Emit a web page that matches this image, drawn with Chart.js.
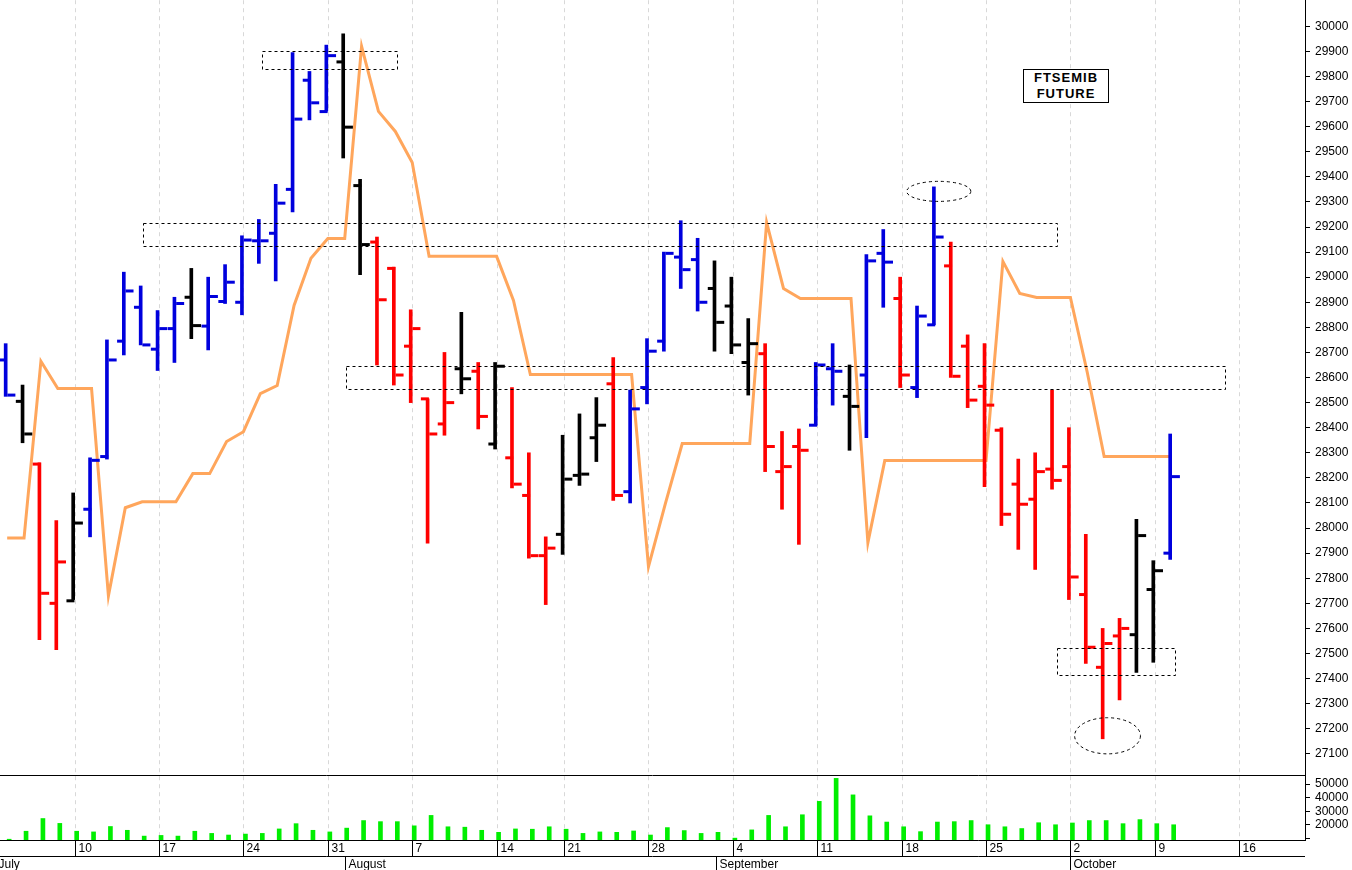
<!DOCTYPE html>
<html><head><meta charset="utf-8">
<script src="https://cdn.jsdelivr.net/npm/chart.js@4.4.1/dist/chart.umd.min.js"></script>
<style>
html,body{margin:0;padding:0;background:#fff;}
#wrap{position:relative;width:1352px;height:870px;overflow:hidden;}
#cw{position:absolute;left:0;top:-12px;width:1352px;height:882px;}
#title{position:absolute;left:1023px;top:69px;width:84px;height:32px;border:1px solid #000;background:#fff;
font:bold 13px "Liberation Sans",Arial,sans-serif;text-align:center;line-height:16px;letter-spacing:1px;color:#000;}
</style></head>
<body><div id="wrap"><div id="cw"><canvas id="c"></canvas></div><div id="title">FTSEMIB<br>FUTURE</div></div>
<script>
const dates=["07-04","07-05","07-06","07-07","07-10","07-11","07-12","07-13","07-14","07-17","07-18","07-19","07-20","07-21","07-24","07-25","07-26","07-27","07-28","07-31","08-01","08-02","08-03","08-04","08-07","08-08","08-09","08-10","08-11","08-14","08-16","08-17","08-18","08-21","08-22","08-23","08-24","08-25","08-28","08-29","08-30","08-31","09-01","09-04","09-05","09-06","09-07","09-08","09-11","09-12","09-13","09-14","09-15","09-18","09-19","09-20","09-21","09-22","09-25","09-26","09-27","09-28","09-29","10-02","10-03","10-04","10-05","10-06","10-09","10-10"];
const highs=[28735,28570,28260,28030,28140,28280,28750,29020,28965,28867,28920,29035,29000,29050,29165,29230,29370,29895,29820,29925,29970,29390,29160,29040,28870,28515,28700,28860,28660,28660,28560,28300,27965,28370,28455,28520,28680,28550,28755,29100,29225,29155,29065,29000,28835,28735,28385,28395,28660,28735,28650,29090,29190,29000,28885,29360,29140,28770,28735,28400,28275,28300,28550,28400,27975,27600,27640,28035,27870,28375];
const lows=[28525,28340,27555,27515,27715,27965,28275,28690,28730,28628,28660,28755,28710,28895,28850,29055,28985,29260,29627,29662,29475,29010,28650,28570,28500,27940,28370,28535,28395,28315,28160,27880,27695,27895,28170,28265,28110,28100,28495,28705,28955,28865,28705,28695,28530,28225,28075,27935,28410,28490,28310,28360,28880,28560,28520,28810,28600,28480,28165,28010,27915,27835,28155,27715,27460,27160,27315,27425,27465,27875];
const opens=[28670,28505,28255,27700,27710,28075,28285,28745,28880,28713,28795,28920,28805,28903,28900,29145,29175,29350,29785,29660,29858,29365,29140,29035,28725,28515,28415,28635,28625,28335,28280,28130,27890,27975,28210,28360,28575,28145,28560,28745,29080,29070,28955,28885,28660,28695,28225,28325,28410,28635,28525,28610,29095,28915,28560,28810,29045,28725,28565,28390,28175,28115,28235,28245,27735,27445,27570,27575,27755,27900];
const closes=[28530,28375,27740,27865,28020,28270,28670,28945,28730,28795,28895,28807,28923,28980,29148,29145,29295,29630,29695,29883,29598,29130,28910,28610,28795,28375,28500,28595,28445,28645,28175,27890,27920,28195,28215,28410,28130,28475,28705,29095,29030,28900,28820,28730,28735,28325,28245,28310,28650,28625,28485,29065,29060,28610,28845,29160,28605,28510,28490,28055,28095,28225,28190,27805,27525,27540,27600,27970,27830,28205];
const barColors="bkrrkbbbbbbkbbbbbbbbkkrrrrrkrkrrrkkkrbbbbbkkkrrrbbkbbrbbrrrrrrrrrrrkkb";
const avgLine=[27960,27960,28665,28556,28556,28556,27730,28081,28105,28105,28105,28217,28217,28345,28384,28536,28568,28887,29075,29154,29154,29920,29661,29581,29457,29083,29083,29083,29083,29083,28907,28612,28612,28612,28612,28612,28612,28612,27846,28097,28337,28337,28337,28337,28337,29218,28955,28915,28915,28915,28915,27942,28269,28269,28269,28269,28269,28269,28269,29063,28935,28919,28919,28919,28620,28285,28285,28285,28285,28285];
const volumes=[9300,15200,24600,21000,15200,14700,18700,15900,11600,12100,11600,15200,13600,12400,13100,13600,16900,20800,15900,14700,17500,23100,22300,22300,19200,26900,18500,18200,15900,14400,16900,16700,18500,16700,13600,14700,14400,15400,12400,17900,15700,13600,14400,10100,16200,26900,18500,27400,37300,54300,42100,26600,22000,18500,14900,22000,22300,23100,20000,18500,17200,21500,20000,21300,23100,23100,20800,23800,20800,20000];
const dayTicks=[[4,"10"],[9,"17"],[14,"24"],[19,"31"],[24,"7"],[29,"14"],[33,"21"],[38,"28"],[43,"4"],[48,"11"],[53,"18"],[58,"25"],[63,"2"],[68,"9"],[73,"16"]];
const monthTicks=[[-0.75,"July"],[20,"August"],[42,"September"],[63,"October"]];
const boxes=[[15.1,23.1,29900,29828],[8.03,62.2,29214,29122],[20.1,72.2,28644,28552],[62.2,69.2,27523,27415]];
const ellipses=[[55.2,29342,1.9,40],[65.2,27172,1.95,72]];
const priceTicks=[27100,27200,27300,27400,27500,27600,27700,27800,27900,28000,28100,28200,28300,28400,28500,28600,28700,28800,28900,29000,29100,29200,29300,29400,29500,29600,29700,29800,29900,30000];
const volTicks=[10000,20000,30000,40000,50000];

const cmap={b:"#0000dd",r:"#ff0000",k:"#000000"};
const cols=barColors.split("").map(c=>cmap[c]);
const FONT='"Liberation Sans",Arial,sans-serif';

const overlay={id:"overlay",
 beforeDatasetsDraw(ch){
  const c=ch.ctx,x=ch.scales.x,a=ch.chartArea;
  c.save();c.strokeStyle="#d8d8d8";c.lineWidth=1;c.setLineDash([4,4]);
  dayTicks.forEach(t=>{const px=Math.round(x.getPixelForValue(t[0]))+0.5;c.beginPath();c.moveTo(px,a.top);c.lineTo(px,a.bottom);c.stroke();});
  c.restore();
 },
 afterDraw(ch){
  const c=ch.ctx,x=ch.scales.x,y=ch.scales.y,yv=ch.scales.yv,a=ch.chartArea;
  c.save();
  c.strokeStyle="#000";c.lineWidth=1;c.setLineDash([3,3]);
  boxes.forEach(b=>{const x1=x.getPixelForValue(b[0]),x2=x.getPixelForValue(b[1]),y1=y.getPixelForValue(b[2]),y2=y.getPixelForValue(b[3]);
   c.strokeRect(Math.round(x1)+0.5,Math.round(y1)+0.5,Math.round(x2-x1),Math.round(y2-y1));});
  ellipses.forEach(e=>{const cx=x.getPixelForValue(e[0]),cy=y.getPixelForValue(e[1]);
   const rx=x.getPixelForValue(e[0]+e[2])-cx,ry=Math.abs(y.getPixelForValue(e[1]+e[3])-cy);
   c.beginPath();c.ellipse(cx,cy,rx,ry,0,0,Math.PI*2);c.stroke();});
  c.setLineDash([]);
  const sep=Math.round(yv.top)-0.5;
  c.beginPath();c.moveTo(0,sep);c.lineTo(a.right,sep);c.stroke();
  const bt=Math.round(a.bottom)+0.5;
  c.beginPath();c.moveTo(0,bt);c.lineTo(a.right,bt);c.stroke();
  c.beginPath();c.moveTo(0,bt+16);c.lineTo(a.right,bt+16);c.stroke();
  c.fillStyle="#000";c.font="12px "+FONT;c.textBaseline="middle";c.textAlign="left";
  dayTicks.forEach(t=>{const px=Math.round(x.getPixelForValue(t[0]))+0.5;
   c.beginPath();c.moveTo(px,bt);c.lineTo(px,bt+16);c.stroke();
   c.fillText(t[1],px+3,bt+8);});
  monthTicks.forEach(t=>{const px=Math.round(x.getPixelForValue(t[0]))+0.5;
   c.beginPath();c.moveTo(px,bt+16);c.lineTo(px,bt+40);c.stroke();
   c.fillText(t[1],px+3,bt+24);});
  c.restore();
 }};

const hl=highs.map((h,i)=>({x:i,y:[lows[i],h]}));
const op=opens.map((v,i)=>({x:i-0.25,y:v}));
const cl=closes.map((v,i)=>({x:i+0.25,y:v}));
const ma=avgLine.map((v,i)=>({x:i,y:v}));
const vo=volumes.map((v,i)=>({x:i,y:v}));

new Chart(document.getElementById("c"),{
 data:{datasets:[
  {type:"line",data:ma,borderColor:"#ffa65c",borderWidth:3,pointRadius:0,tension:0,yAxisID:"y",order:3,clip:false},
  {type:"bar",data:hl,backgroundColor:cols,barThickness:3,yAxisID:"y",order:2,clip:false},
  {type:"scatter",data:op,pointStyle:"line",radius:4,borderWidth:3,borderColor:cols,backgroundColor:cols,yAxisID:"y",order:1,clip:false},
  {type:"scatter",data:cl,pointStyle:"line",radius:4,borderWidth:3,borderColor:cols,backgroundColor:cols,yAxisID:"y",order:1,clip:false},
  {type:"bar",data:vo,backgroundColor:"#00ee00",barThickness:4,yAxisID:"yv",order:4,clip:{left:false,top:0,right:0,bottom:0}}
 ]},
 options:{responsive:true,maintainAspectRatio:false,animation:false,
  layout:{padding:{left:0,top:0,right:0,bottom:30}},
  plugins:{legend:{display:false},tooltip:{enabled:false}},
  scales:{
   x:{type:"linear",min:-0.01,max:76.9,offset:false,display:false},
   y:{type:"linear",position:"right",stack:"s",stackWeight:775,min:27012,max:30104,
      afterBuildTicks:s=>{s.ticks=priceTicks.map(v=>({value:v}));},
      afterFit:s=>{s.width=47;},
      grid:{drawOnChartArea:false,drawTicks:true,tickLength:5,color:"#000"},border:{display:true,color:"#000"},
      ticks:{color:"#000",autoSkip:false,font:{size:12,family:FONT},padding:5,callback:v=>String(v)}},
   yv:{type:"linear",position:"right",stack:"s",stackWeight:64,min:8720,max:56100,
      afterBuildTicks:s=>{s.ticks=volTicks.map(v=>({value:v}));},
      afterFit:s=>{s.width=47;},
      grid:{drawOnChartArea:false,drawTicks:true,tickLength:5,color:"#000"},border:{display:true,color:"#000"},
      ticks:{color:"#000",autoSkip:false,font:{size:12,family:FONT},padding:5,callback:v=>v>=20000?String(v):""}}
  }},
 plugins:[overlay]
});
</script></body></html>
